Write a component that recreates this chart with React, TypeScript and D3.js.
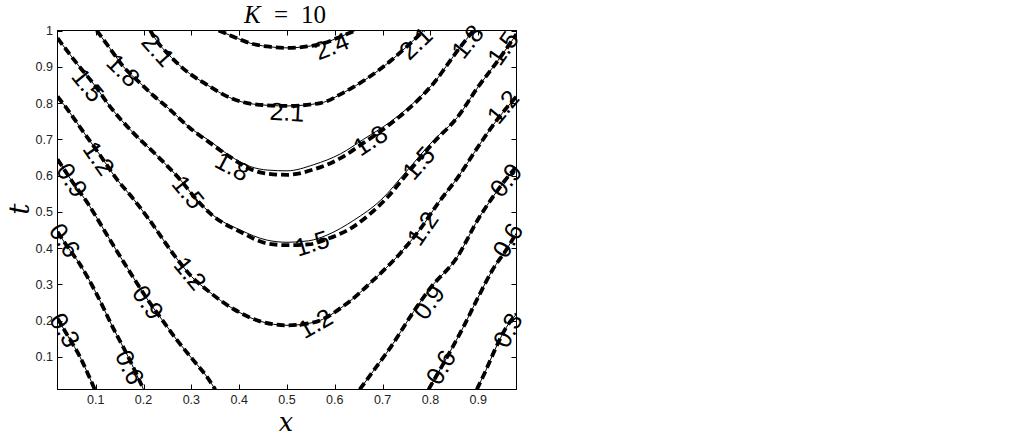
import React from 'react';
import * as d3 from 'd3';

type P = [number, number];

// ---------- axis ticks ----------
const xTicks = [0.1, 0.2, 0.3, 0.4, 0.5, 0.6, 0.7, 0.8, 0.9];
const xTickLabels = ['0.1', '0.2', '0.3', '0.4', '0.5', '0.6', '0.7', '0.8', '0.9'];
const tTicks = [0.1, 0.2, 0.3, 0.4, 0.5, 0.6, 0.7, 0.8, 0.9, 1];
const tTickLabels = ['0.1', '0.2', '0.3', '0.4', '0.5', '0.6', '0.7', '0.8', '0.9', '1'];

// ---------- contour lines (x, t) ----------
const c03L: P[] = [[0.02, 0.206], [0.045, 0.15], [0.067, 0.1], [0.083, 0.055], [0.098, 0.01]];
const c03R: P[] = [[0.897, 0.01], [0.915, 0.06], [0.935, 0.12], [0.958, 0.18], [0.98, 0.218]];

const c06L: P[] = [[0.02, 0.445], [0.04, 0.405], [0.067, 0.355], [0.1, 0.278], [0.137, 0.178], [0.166, 0.105], [0.2, 0.01]];
const c06R: P[] = [[0.796, 0.01], [0.835, 0.1], [0.868, 0.18], [0.9, 0.265], [0.93, 0.34], [0.96, 0.398], [0.98, 0.442]];

const c09L: P[] = [[0.02, 0.645], [0.05, 0.585], [0.085, 0.52], [0.13, 0.422], [0.179, 0.318], [0.21, 0.255], [0.24, 0.2], [0.27, 0.146], [0.304, 0.091], [0.333, 0.044], [0.35, 0.01]];
const c09R: P[] = [[0.652, 0.01], [0.68, 0.06], [0.717, 0.127], [0.765, 0.225], [0.8, 0.29], [0.856, 0.375], [0.9, 0.48], [0.93, 0.54], [0.955, 0.585], [0.98, 0.625]];

const c12: P[] = [[0.02, 0.818], [0.045, 0.775], [0.07, 0.728], [0.107, 0.66], [0.144, 0.59], [0.179, 0.535], [0.207, 0.487], [0.27, 0.37], [0.3, 0.322], [0.333, 0.284], [0.388, 0.232], [0.444, 0.198], [0.5, 0.187], [0.556, 0.195], [0.626, 0.248], [0.681, 0.312], [0.737, 0.386], [0.78, 0.455], [0.814, 0.52], [0.86, 0.6], [0.9, 0.68], [0.94, 0.755], [0.98, 0.818]];

const c15: P[] = [[0.02, 0.979], [0.06, 0.91], [0.1, 0.845], [0.13, 0.79], [0.179, 0.717], [0.228, 0.655], [0.277, 0.588], [0.31, 0.535], [0.346, 0.49], [0.402, 0.45], [0.458, 0.422], [0.5, 0.416], [0.545, 0.42], [0.584, 0.436], [0.64, 0.477], [0.696, 0.532], [0.75, 0.612], [0.807, 0.698], [0.856, 0.76], [0.9, 0.845], [0.94, 0.915], [0.98, 0.99]];
const d15: P[] = [[0.02, 0.979], [0.06, 0.91], [0.1, 0.845], [0.13, 0.79], [0.179, 0.717], [0.228, 0.655], [0.277, 0.588], [0.31, 0.535], [0.346, 0.488], [0.402, 0.445], [0.458, 0.413], [0.5, 0.408], [0.545, 0.41], [0.584, 0.425], [0.64, 0.46], [0.67, 0.49], [0.71, 0.54], [0.75, 0.603], [0.807, 0.692], [0.856, 0.76], [0.9, 0.845], [0.94, 0.915], [0.98, 0.99]];

const c18: P[] = [[0.102, 1.0], [0.13, 0.95], [0.158, 0.9], [0.193, 0.855], [0.221, 0.82], [0.249, 0.789], [0.298, 0.731], [0.339, 0.695], [0.38, 0.655], [0.423, 0.625], [0.46, 0.615], [0.5, 0.613], [0.556, 0.63], [0.612, 0.66], [0.66, 0.7], [0.716, 0.748], [0.779, 0.818], [0.81, 0.86], [0.835, 0.905], [0.86, 0.95], [0.89, 1.0]];
const d18: P[] = [[0.102, 1.0], [0.13, 0.95], [0.158, 0.9], [0.193, 0.855], [0.221, 0.82], [0.249, 0.789], [0.298, 0.73], [0.339, 0.69], [0.38, 0.652], [0.423, 0.618], [0.46, 0.605], [0.5, 0.602], [0.556, 0.617], [0.612, 0.648], [0.66, 0.69], [0.716, 0.742], [0.779, 0.815], [0.81, 0.86], [0.835, 0.905], [0.86, 0.95], [0.89, 1.0]];

const c21: P[] = [[0.214, 1.0], [0.231, 0.965], [0.25, 0.937], [0.283, 0.895], [0.333, 0.85], [0.38, 0.815], [0.43, 0.797], [0.5, 0.792], [0.57, 0.8], [0.62, 0.83], [0.67, 0.87], [0.72, 0.92], [0.75, 0.955], [0.786, 1.0]];

const c24: P[] = [[0.357, 1.0], [0.388, 0.983], [0.423, 0.965], [0.458, 0.956], [0.5, 0.952], [0.542, 0.956], [0.577, 0.965], [0.612, 0.983], [0.643, 1.0]];

const solidContours = [
  { level: 0.3, pts: c03L }, { level: 0.3, pts: c03R },
  { level: 0.6, pts: c06L }, { level: 0.6, pts: c06R },
  { level: 0.9, pts: c09L }, { level: 0.9, pts: c09R },
  { level: 1.2, pts: c12 }, { level: 1.5, pts: c15 },
  { level: 1.8, pts: c18 }, { level: 2.1, pts: c21 }, { level: 2.4, pts: c24 },
];
const dashedContours = [
  { level: 0.3, pts: c03L }, { level: 0.3, pts: c03R },
  { level: 0.6, pts: c06L }, { level: 0.6, pts: c06R },
  { level: 0.9, pts: c09L }, { level: 0.9, pts: c09R },
  { level: 1.2, pts: c12 }, { level: 1.5, pts: d15 },
  { level: 1.8, pts: d18 }, { level: 2.1, pts: c21 }, { level: 2.4, pts: c24 },
];

// ---------- contour labels: level, x, t ----------
const labelLevel = [2.4, 2.1, 2.1, 2.1, 1.8, 1.8, 1.8, 1.8, 1.5, 1.5, 1.5, 1.5, 1.5, 1.2, 1.2, 1.2, 1.2, 1.2, 0.9, 0.9, 0.9, 0.9, 0.6, 0.6, 0.6, 0.6, 0.3, 0.3];
const labelX = [0.593, 0.231, 0.5, 0.769, 0.158, 0.386, 0.674, 0.877, 0.084, 0.294, 0.552, 0.775, 0.951, 0.107, 0.298, 0.559, 0.783, 0.951, 0.051, 0.21, 0.796, 0.957, 0.036, 0.172, 0.821, 0.961, 0.036, 0.961];
const labelT = [0.958, 0.947, 0.776, 0.966, 0.891, 0.626, 0.698, 0.97, 0.85, 0.555, 0.414, 0.635, 0.952, 0.648, 0.331, 0.193, 0.455, 0.79, 0.588, 0.251, 0.251, 0.588, 0.422, 0.072, 0.072, 0.422, 0.174, 0.174];

const L = 57.5, R = 516.5, T = 30.5, B = 389.5;

export default function App() {
  const x = d3.scaleLinear().domain([0.02, 0.98]).range([L, R]);
  const y = d3.scaleLinear().domain([0.01, 1]).range([B, T]);
  const line = d3.line<P>().x(d => x(d[0])).y(d => y(d[1])).curve(d3.curveMonotoneX);

  const angleFor = (level: number, lx: number, lt: number) => {
    const px = x(lx), py = y(lt);
    let best = Infinity, ang = 0;
    for (const c of solidContours) {
      if (Math.abs(c.level - level) > 1e-6) continue;
      for (let i = 0; i < c.pts.length - 1; i++) {
        const ax = x(c.pts[i][0]), ay = y(c.pts[i][1]);
        const bx = x(c.pts[i + 1][0]), by = y(c.pts[i + 1][1]);
        const dx = bx - ax, dy = by - ay;
        const len2 = dx * dx + dy * dy;
        let u = ((px - ax) * dx + (py - ay) * dy) / len2;
        u = Math.max(0, Math.min(1, u));
        const qx = ax + u * dx, qy = ay + u * dy;
        const d = Math.hypot(px - qx, py - qy);
        if (d < best) { best = d; ang = Math.atan2(dy, dx) * 180 / Math.PI; }
      }
    }
    if (ang > 90) ang -= 180;
    if (ang < -90) ang += 180;
    return ang;
  };

  const tickFont = { fontFamily: 'Liberation Sans, Arial, sans-serif', fontSize: 12.5, fill: '#222' };

  return (
    <svg width={1024} height={437} style={{ position: 'absolute', left: 0, top: 0, background: '#fff' }}>
      <defs>
        <clipPath id="plotclip">
          <rect x={L} y={T} width={R - L} height={B - T} />
        </clipPath>
      </defs>
      <rect x={0} y={0} width={1024} height={437} fill="#fff" />
      <g clipPath="url(#plotclip)">
        {dashedContours.map((c, i) => (
          <path key={'d' + i} d={line(c.pts) || ''} fill="none" stroke="#000" strokeWidth={3.8} strokeDasharray="8 4" />
        ))}
        {solidContours.map((c, i) => (
          <path key={'s' + i} d={line(c.pts) || ''} fill="none" stroke="#000" strokeWidth={1} />
        ))}
      </g>
      {labelLevel.map((lv, i) => {
        const ang = angleFor(lv, labelX[i], labelT[i]);
        return (
          <text key={'l' + i}
            transform={`translate(${x(labelX[i])},${y(labelT[i])}) rotate(${ang})`}
            textAnchor="middle" dominantBaseline="central"
            fontFamily="Liberation Sans, Arial, sans-serif" fontSize={25} fill="#000">
            {lv.toFixed(1)}
          </text>
        );
      })}
      <rect x={L} y={T} width={R - L} height={B - T} fill="none" stroke="#000" strokeWidth={1} />
      {xTicks.map((v, i) => (
        <g key={'xt' + i}>
          <line x1={Math.round(x(v)) + 0.5} x2={Math.round(x(v)) + 0.5} y1={B} y2={B - 5} stroke="#000" />
          <line x1={Math.round(x(v)) + 0.5} x2={Math.round(x(v)) + 0.5} y1={T} y2={T + 5} stroke="#000" />
          <text x={x(v)} y={404} textAnchor="middle" {...tickFont}>{xTickLabels[i]}</text>
        </g>
      ))}
      {tTicks.map((v, i) => (
        <g key={'yt' + i}>
          <line x1={L} x2={L + 5} y1={Math.round(y(v)) + 0.5} y2={Math.round(y(v)) + 0.5} stroke="#000" />
          <line x1={R} x2={R - 5} y1={Math.round(y(v)) + 0.5} y2={Math.round(y(v)) + 0.5} stroke="#000" />
          <text x={53} y={y(v) + 4.5} textAnchor="end" {...tickFont}>{tTickLabels[i]}</text>
        </g>
      ))}
      <text x={286} y={431} textAnchor="middle" fontFamily="DejaVu Serif, serif" fontStyle="italic" fontSize={25.5}>x</text>
      <text transform="translate(29,209) rotate(-90)" textAnchor="middle" fontFamily="DejaVu Serif, serif" fontStyle="italic" fontSize={28}>t</text>
      <g fontFamily="Liberation Serif, Times New Roman, serif" fontSize={25}>
        <text x={244} y={23} fontStyle="italic">K</text>
        <text x={281} y={23} textAnchor="middle">=</text>
        <text x={301} y={23}>10</text>
      </g>
    </svg>
  );
}
